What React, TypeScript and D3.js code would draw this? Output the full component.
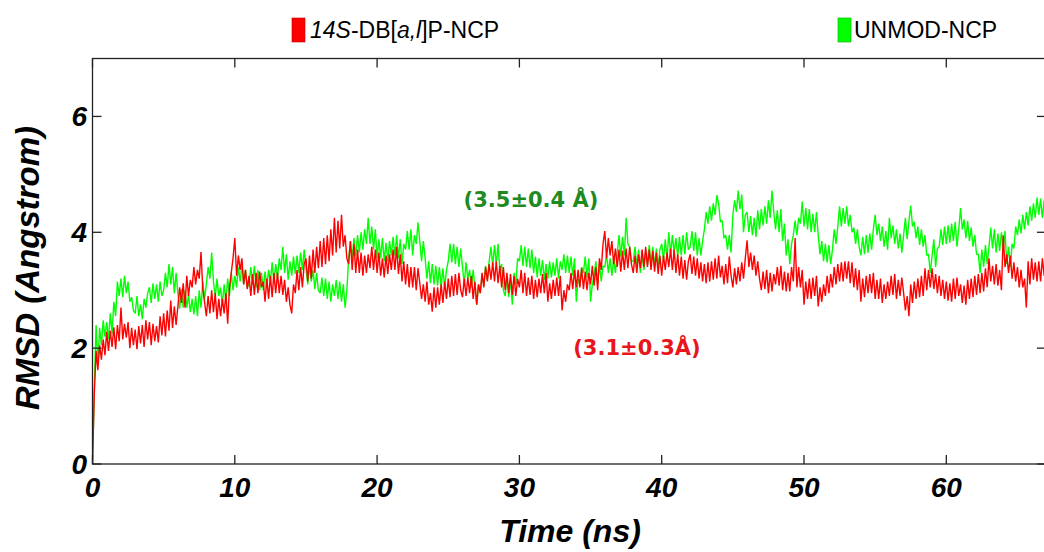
import { useEffect, useRef } from 'react';
import * as d3 from 'd3';

// sample spacing of the traces (ns)
const TIME_STEP = 0.125;

// 14S-DB[a,l]P-NCP RMSD (Angstrom), one row per ns
const rmsd14S = [
  0.00, 1.20, 1.95, 1.62, 2.05, 1.80, 2.15, 1.88,
  2.28, 1.95, 2.30, 2.02, 2.36, 1.98, 2.40, 2.12,
  2.70, 2.15, 2.42, 2.18, 2.45, 2.00, 2.35, 2.05,
  2.32, 1.98, 2.38, 2.08, 2.40, 2.02, 2.48, 2.15,
  2.45, 2.05, 2.42, 2.12, 2.38, 2.10, 2.55, 2.22,
  2.60, 2.20, 2.65, 2.30, 2.82, 2.35, 2.72, 2.40,
  2.72, 3.05, 2.78, 3.12, 2.70, 3.25, 2.90, 3.18,
  3.05, 3.40, 3.10, 3.35, 3.20, 3.66, 3.02, 2.80,
  2.55, 2.90, 2.60, 3.00, 2.62, 2.95, 2.50, 2.85,
  2.55, 2.85, 2.60, 2.95, 2.42, 3.05, 3.30, 3.55,
  3.90, 3.25, 3.60, 3.35, 3.55, 3.10, 3.35, 3.02,
  3.25, 2.90, 3.28, 2.92, 3.30, 2.95, 3.32, 3.05,
  3.15, 2.80, 3.20, 2.85, 3.25, 2.88, 3.30, 2.95,
  3.30, 2.95, 3.25, 2.92, 3.18, 2.80, 3.05, 2.75,
  2.60, 3.10, 2.95, 3.35, 3.00, 3.40, 3.05, 3.45,
  3.55, 3.15, 3.60, 3.20, 3.70, 3.30, 3.75, 3.38,
  3.85, 3.40, 3.90, 3.45, 3.95, 3.50, 4.05, 3.60,
  4.25, 3.65, 4.20, 3.72, 4.30, 3.75, 3.95, 3.55,
  3.45, 3.85, 3.35, 3.80, 3.30, 3.70, 3.30, 3.65,
  3.25, 3.60, 3.30, 3.62, 3.38, 3.75, 3.35, 3.70,
  3.30, 3.65, 3.25, 3.55, 3.22, 3.60, 3.28, 3.62,
  3.35, 3.70, 3.35, 3.75, 3.28, 3.62, 3.15, 3.50,
  3.10, 3.45, 3.05, 3.40, 3.05, 3.40, 3.00, 3.38,
  3.12, 2.85, 3.10, 2.80, 3.15, 2.75, 2.95, 2.63,
  3.05, 2.70, 3.05, 2.75, 3.10, 2.78, 3.15, 2.85,
  3.20, 2.88, 3.25, 2.90, 3.28, 2.92, 3.30, 3.00,
  2.88, 3.20, 2.90, 3.22, 2.95, 3.25, 2.85, 3.15,
  2.75, 3.10, 2.95, 3.30, 3.05, 3.40, 3.15, 3.45,
  3.18, 3.48, 3.15, 3.50, 3.12, 3.42, 3.05, 3.40,
  3.00, 3.30, 2.95, 3.28, 2.92, 3.25, 2.90, 3.20,
  3.05, 3.35, 2.95, 3.30, 2.90, 3.22, 2.92, 3.25,
  2.85, 3.18, 2.88, 3.20, 2.95, 3.28, 2.95, 3.30,
  2.80, 3.12, 2.85, 3.18, 2.90, 3.22, 2.90, 3.25,
  2.65, 3.00, 2.80, 3.10, 3.00, 3.30, 3.02, 3.35,
  3.05, 3.35, 3.05, 3.38, 3.02, 3.32, 3.00, 3.30,
  3.10, 3.42, 3.08, 3.40, 3.00, 3.55, 3.35, 3.80,
  4.02, 3.55, 3.90, 3.60, 3.85, 3.45, 3.72, 3.40,
  3.70, 3.32, 3.68, 3.35, 3.72, 3.38, 3.75, 3.45,
  3.30, 3.60, 3.30, 3.62, 3.38, 3.70, 3.40, 3.75,
  3.40, 3.70, 3.35, 3.68, 3.32, 3.65, 3.28, 3.60,
  3.25, 3.60, 3.35, 3.65, 3.40, 3.72, 3.35, 3.70,
  3.30, 3.62, 3.25, 3.58, 3.20, 3.52, 3.18, 3.50,
  3.62, 3.28, 3.58, 3.25, 3.55, 3.20, 3.48, 3.15,
  3.45, 3.12, 3.48, 3.15, 3.50, 3.18, 3.55, 3.20,
  3.60, 3.22, 3.42, 3.10, 3.45, 3.12, 3.58, 3.25,
  3.05, 3.38, 3.10, 3.40, 3.15, 3.48, 3.20, 3.55,
  3.86, 3.40, 3.65, 3.35, 3.60, 3.25, 3.50, 3.20,
  3.00, 3.32, 3.02, 3.35, 2.95, 3.30, 2.98, 3.28,
  3.10, 3.40, 3.08, 3.42, 3.00, 3.32, 2.98, 3.30,
  2.98, 3.40, 3.15, 3.90, 3.05, 3.40, 3.05, 3.35,
  2.75, 3.15, 2.85, 3.20, 2.85, 3.22, 2.90, 3.25,
  2.72, 3.05, 2.80, 3.10, 2.90, 3.25, 2.95, 3.28,
  3.05, 3.40, 3.10, 3.45, 3.15, 3.48, 3.15, 3.50,
  3.20, 3.50, 3.12, 3.48, 3.05, 3.38, 3.00, 3.35,
  2.80, 3.20, 2.88, 3.25, 2.95, 3.28, 2.95, 3.30,
  2.85, 3.18, 2.85, 3.20, 2.78, 3.10, 2.85, 3.15,
  2.90, 3.25, 2.92, 3.28, 2.85, 3.18, 2.90, 3.22,
  2.95, 2.65, 2.90, 2.55, 3.10, 2.78, 3.15, 2.85,
  3.20, 2.88, 3.25, 2.90, 3.38, 3.00, 3.35, 3.05,
  3.38, 3.02, 3.28, 2.95, 3.25, 2.90, 3.18, 2.85,
  3.15, 2.82, 3.12, 2.80, 3.20, 2.85, 3.22, 2.90,
  3.10, 2.78, 3.08, 2.75, 3.18, 2.85, 3.20, 2.88,
  3.25, 2.92, 3.28, 2.95, 3.30, 2.98, 3.38, 3.05,
  3.55, 3.15, 3.42, 3.10, 3.45, 3.08, 3.35, 3.00,
  3.95, 3.40, 3.62, 3.30, 3.60, 3.20, 3.48, 3.15,
  3.40, 3.05, 3.35, 3.05, 3.20, 2.70, 3.50, 3.10,
  3.55, 3.18, 3.48, 3.15, 3.50, 3.15, 3.55, 3.25,
  3.40,
];

// UNMOD-NCP RMSD (Angstrom), one row per ns
const rmsdUnmod = [
  0.00, 1.30, 2.40, 1.70, 2.35, 2.05, 2.48, 2.20,
  2.45, 2.15, 2.60, 2.25, 2.80, 2.55, 3.15, 2.90,
  3.20, 2.88, 3.25, 2.95, 3.15, 2.80, 2.88, 2.65,
  2.60, 2.90, 2.55, 2.75, 2.50, 2.85, 2.70, 2.95,
  3.05, 2.78, 3.12, 2.85, 3.10, 2.80, 3.15, 2.90,
  3.00, 3.30, 3.05, 3.45, 3.10, 3.40, 2.95, 3.30,
  2.95, 2.68, 3.02, 2.70, 3.00, 2.70, 2.92, 2.62,
  2.85, 2.58, 2.90, 2.55, 3.00, 2.70, 3.15, 2.85,
  3.10, 3.40, 3.20, 3.65, 3.15, 2.88, 3.20, 2.90,
  3.05, 2.75, 3.10, 2.80, 3.20, 2.90, 3.30, 3.00,
  3.25, 3.05, 3.40, 3.15, 3.42, 3.10, 3.35, 3.05,
  3.10, 3.40, 3.10, 3.42, 3.05, 3.35, 3.00, 3.30,
  3.00, 3.32, 3.05, 3.35, 3.15, 3.48, 3.12, 3.45,
  3.20, 3.55, 3.35, 3.75, 3.30, 3.62, 3.18, 3.50,
  3.25, 3.58, 3.28, 3.60, 3.30, 3.65, 3.35, 3.70,
  3.40, 3.10, 3.45, 3.15, 3.35, 3.02, 3.30, 3.00,
  2.95, 3.22, 2.90, 3.20, 2.85, 3.15, 2.80, 3.10,
  2.90, 3.18, 2.85, 3.15, 2.80, 3.10, 2.70, 3.00,
  3.55, 3.85, 3.55, 3.90, 3.60, 3.95, 3.65, 4.00,
  3.70, 4.05, 3.80, 4.25, 3.80, 4.10, 3.70, 4.05,
  3.55, 3.88, 3.55, 3.90, 3.50, 3.82, 3.50, 3.85,
  3.60, 3.92, 3.60, 3.95, 3.55, 3.88, 3.45, 3.80,
  3.70, 4.02, 3.70, 4.05, 3.60, 3.95, 3.80, 4.17,
  3.85, 3.50, 3.85, 3.55, 3.20, 3.50, 3.12, 3.45,
  3.10, 3.42, 3.08, 3.40, 3.05, 3.38, 3.05, 3.35,
  3.50, 3.80, 3.48, 3.80, 3.45, 3.75, 3.40, 3.72,
  3.40, 3.10, 3.48, 3.20, 3.35, 3.05, 3.35, 3.05,
  2.75, 3.10, 2.95, 3.25, 3.10, 3.42, 3.18, 3.50,
  3.75, 3.42, 3.78, 3.45, 3.80, 3.35, 3.45, 3.00,
  2.90, 3.22, 2.88, 3.20, 2.75, 3.30, 3.10, 3.55,
  3.50, 3.78, 3.42, 3.75, 3.40, 3.72, 3.38, 3.70,
  3.30, 3.58, 3.22, 3.55, 3.25, 3.52, 3.18, 3.45,
  3.20, 3.50, 3.22, 3.48, 3.25, 3.55, 3.20, 3.50,
  3.35, 3.62, 3.30, 3.60, 3.30, 3.58, 3.25, 3.55,
  2.80, 3.20, 3.10, 3.40, 3.30, 3.58, 3.22, 3.55,
  2.80, 3.10, 3.25, 3.50, 3.12, 3.45, 3.15, 3.42,
  3.40, 3.62, 3.30, 3.55, 3.25, 3.55, 3.30, 3.65,
  3.95, 3.58, 3.92, 3.60, 4.25, 3.80, 3.75, 3.50,
  3.50, 3.75, 3.40, 3.70, 3.30, 3.62, 3.35, 3.65,
  3.45, 3.78, 3.42, 3.75, 3.40, 3.72, 3.40, 3.70,
  3.80, 3.52, 3.88, 3.55, 4.00, 3.62, 3.95, 3.65,
  3.90, 3.58, 3.92, 3.60, 3.95, 3.62, 4.00, 3.70,
  3.75, 4.02, 3.68, 4.00, 3.60, 3.90, 3.60, 3.85,
  4.05, 4.35, 4.15, 4.45, 4.20, 4.50, 4.30, 4.64,
  4.50, 4.18, 4.20, 3.90, 3.95, 3.70, 3.95, 3.65,
  4.30, 4.55, 4.35, 4.72, 4.40, 4.65, 4.00, 4.30,
  4.35, 4.00, 4.28, 3.95, 4.25, 3.92, 4.38, 4.05,
  4.40, 4.12, 4.45, 4.15, 4.55, 4.25, 4.72, 4.35,
  4.05, 4.38, 4.00, 4.40, 3.85, 4.15, 3.60, 3.88,
  3.45, 3.80, 3.95, 4.20, 3.95, 4.25, 4.15, 4.53,
  4.10, 4.42, 4.05, 4.40, 4.00, 4.32, 4.00, 4.35,
  3.95, 3.62, 3.85, 3.50, 3.80, 3.48, 3.78, 3.45,
  3.70, 4.05, 3.80, 4.10, 4.45, 4.10, 4.42, 4.15,
  4.45, 4.10, 4.30, 4.00, 4.08, 3.80, 4.05, 3.75,
  3.60, 3.92, 3.62, 3.95, 3.65, 3.98, 3.70, 4.05,
  4.30, 3.95, 4.15, 3.85, 4.10, 3.75, 4.02, 3.70,
  4.25, 3.90, 4.12, 3.80, 4.05, 3.72, 3.98, 3.65,
  3.95, 4.25, 3.88, 4.20, 4.46, 4.10, 4.18, 3.90,
  4.10, 3.78, 4.05, 3.75, 3.95, 3.60, 3.62, 3.30,
  3.60, 3.88, 3.40, 3.72, 3.75, 4.05, 3.78, 4.10,
  3.80, 4.12, 3.82, 4.15, 3.85, 4.18, 3.75, 4.05,
  4.42, 4.05, 4.22, 3.90, 4.20, 3.85, 4.08, 3.75,
  3.95, 3.62, 3.62, 3.30, 3.70, 3.40, 3.78, 3.45,
  3.75, 4.08, 3.72, 4.05, 3.65, 3.98, 3.68, 4.00,
  3.70, 4.02, 3.45, 3.75, 3.40, 3.80, 3.72, 4.10,
  3.95, 4.22, 3.98, 4.30, 4.05, 4.35, 4.12, 4.45,
  4.20, 4.50, 4.25, 4.60, 4.30, 4.58, 4.25, 4.55,
  4.40,
];

const xTicks = [0, 10, 20, 30, 40, 50, 60];
const yTicks = [0, 2, 4, 6];

const W = 1044;
const H = 552;

export default function App() {
  const svgRef = useRef<SVGSVGElement>(null);

  useEffect(() => {
    const svg = d3.select(svgRef.current);
    svg.selectAll('*').remove();

    const left = 92.5, top = 58.5, bottom = 464;
    const x = d3.scaleLinear().domain([0, 67]).range([left, left + 67 * 14.23]);
    const y = d3.scaleLinear().domain([0, 7]).range([bottom, top]);
    const right = x(67);
    const tick = 9;
    const font = '"Liberation Sans", Arial, sans-serif';

    svg.append('rect').attr('width', W).attr('height', H).attr('fill', '#fff');

    svg.append('defs').append('clipPath').attr('id', 'plot')
      .append('rect')
      .attr('x', left).attr('y', top)
      .attr('width', right - left).attr('height', bottom - top);

    // traces, green under red
    const line = d3.line<number>()
      .x((_, i) => x(i * TIME_STEP))
      .y(d => y(d));

    const traces = svg.append('g').attr('clip-path', 'url(#plot)');
    traces.append('path')
      .attr('d', line(rmsdUnmod))
      .attr('fill', 'none')
      .attr('stroke', '#00ff00')
      .attr('stroke-width', 1.4)
      .attr('stroke-linejoin', 'bevel');
    traces.append('path')
      .attr('d', line(rmsd14S))
      .attr('fill', 'none')
      .attr('stroke', '#ff0000')
      .attr('stroke-width', 1.4)
      .attr('stroke-linejoin', 'bevel');

    // frame with inward ticks on all sides
    const frame = svg.append('g').attr('stroke', '#222').attr('stroke-width', 1.3);
    frame.append('rect')
      .attr('x', left).attr('y', top)
      .attr('width', right - left).attr('height', bottom - top)
      .attr('fill', 'none');
    xTicks.forEach(t => {
      frame.append('line').attr('x1', x(t)).attr('x2', x(t)).attr('y1', bottom).attr('y2', bottom - tick);
      frame.append('line').attr('x1', x(t)).attr('x2', x(t)).attr('y1', top).attr('y2', top + tick);
    });
    yTicks.forEach(v => {
      frame.append('line').attr('x1', left).attr('x2', left + tick).attr('y1', y(v)).attr('y2', y(v));
      frame.append('line').attr('x1', right).attr('x2', right - tick).attr('y1', y(v)).attr('y2', y(v));
    });

    // tick labels
    svg.append('g').selectAll('text')
      .data(xTicks)
      .enter()
      .append('text')
      .attr('x', d => x(d))
      .attr('y', 497)
      .attr('text-anchor', 'middle')
      .style('font', `italic bold 28px ${font}`)
      .text(d => d);

    svg.append('g').selectAll('text')
      .data(yTicks)
      .enter()
      .append('text')
      .attr('x', 87)
      .attr('y', d => y(d) + 10)
      .attr('text-anchor', 'end')
      .style('font', `italic bold 28px ${font}`)
      .text(d => d);

    // axis titles
    svg.append('text')
      .attr('x', 570)
      .attr('y', 542)
      .attr('text-anchor', 'middle')
      .style('font', `italic bold 32px ${font}`)
      .text('Time (ns)');

    svg.append('text')
      .attr('transform', 'translate(39,268) rotate(-90)')
      .attr('text-anchor', 'middle')
      .style('font', `italic bold 33px ${font}`)
      .text('RMSD (Angstrom)');

    // legend
    svg.append('rect').attr('x', 292).attr('y', 18).attr('width', 13).attr('height', 24)
      .attr('fill', '#ff0000').attr('stroke', '#b00').attr('stroke-width', 0.6);
    const lg1 = svg.append('text').attr('x', 310).attr('y', 38)
      .style('font', `23px ${font}`);
    lg1.append('tspan').style('font-style', 'italic').text('14S');
    lg1.append('tspan').text('-DB[');
    lg1.append('tspan').style('font-style', 'italic').text('a,l');
    lg1.append('tspan').text(']P-NCP');

    svg.append('rect').attr('x', 838).attr('y', 18).attr('width', 13).attr('height', 24)
      .attr('fill', '#00ff00').attr('stroke', '#0a0').attr('stroke-width', 0.6);
    svg.append('text').attr('x', 854).attr('y', 38)
      .style('font', `23px ${font}`)
      .text('UNMOD-NCP');

    // averages
    svg.append('text')
      .attr('x', 531).attr('y', 207)
      .attr('text-anchor', 'middle')
      .attr('fill', '#1f8a1f')
      .style('font', 'bold 21px "DejaVu Sans", Verdana, sans-serif')
      .text('(3.5±0.4 Å)');

    svg.append('text')
      .attr('x', 637).attr('y', 355)
      .attr('text-anchor', 'middle')
      .attr('fill', '#e8161b')
      .style('font', 'bold 21px "DejaVu Sans", Verdana, sans-serif')
      .text('(3.1±0.3Å)');
  }, []);

  return (
    <svg
      ref={svgRef}
      width={W}
      height={H}
      style={{ position: 'absolute', left: 0, top: 0 }}
    />
  );
}
